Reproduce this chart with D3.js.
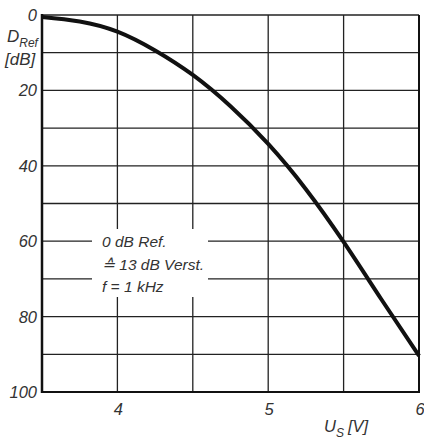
<!DOCTYPE html>
<html>
<head>
<meta charset="utf-8">
<script src="https://cdn.jsdelivr.net/npm/d3@7"></script>
<style>
  body { margin: 0; background: #fff; }
  text { font-family: "Liberation Sans", Arial, sans-serif; font-style: italic; fill: #333; }
</style>
</head>
<body>
<script>
'use strict';
(function() {
    // values
    let volts = [3.5, 3.75, 4.0, 4.25, 4.5, 4.75, 5.0, 5.25, 5.5, 5.75, 6.0];
    let dbRef = [0.5, 1.7, 4.4, 9.4, 15.9, 24.2, 34.2, 46.2, 60.2, 75.4, 90.4];
    let xGrid = [3.5, 4, 4.5, 5, 5.5, 6];
    let xLabels = [4, 5, 6];
    let yGrid = [0, 10, 20, 30, 40, 50, 60, 70, 80, 90, 100];
    let yLabels = [0, 20, 40, 60, 80, 100];
    let noteLines = ['0 dB Ref.', '\u2259 13 dB Verst.', 'f = 1 kHz'];

    let plot = { left: 42, right: 419, top: 15, bottom: 392 };

    let svg = d3.select('body').append('svg')
                .attr('width', 424)
                .attr('height', 440);

    let x = d3.scaleLinear().domain([3.5, 6]).range([plot.left, plot.right]);
    let y = d3.scaleLinear().domain([0, 100]).range([plot.top, plot.bottom]);

    // grid
    svg.append('g')
        .selectAll('line')
        .data(xGrid)
        .enter()
        .append('line')
        .attr('x1', (d) => x(d)).attr('x2', (d) => x(d))
        .attr('y1', plot.top).attr('y2', plot.bottom)
        .attr('stroke', '#222')
        .attr('stroke-width', 1.3);
    svg.append('g')
        .selectAll('line')
        .data(yGrid)
        .enter()
        .append('line')
        .attr('x1', plot.left).attr('x2', plot.right)
        .attr('y1', (d) => y(d)).attr('y2', (d) => y(d))
        .attr('stroke', '#222')
        .attr('stroke-width', 1.3);

    // heavier frame on left, bottom, right
    svg.append('line')
        .attr('x1', plot.left).attr('x2', plot.left)
        .attr('y1', plot.top - 1).attr('y2', plot.bottom + 1)
        .attr('stroke', '#111').attr('stroke-width', 2.5);
    svg.append('line')
        .attr('x1', plot.left).attr('x2', plot.right + 1)
        .attr('y1', plot.bottom).attr('y2', plot.bottom)
        .attr('stroke', '#111').attr('stroke-width', 2.2);
    svg.append('line')
        .attr('x1', plot.right).attr('x2', plot.right)
        .attr('y1', plot.top).attr('y2', plot.bottom)
        .attr('stroke', '#111').attr('stroke-width', 2);

    // tick labels
    svg.append('g')
        .selectAll('text')
        .data(yLabels)
        .enter()
        .append('text')
        .attr('x', plot.left - 5)
        .attr('y', (d) => y(d) + 6)
        .attr('text-anchor', 'end')
        .style('font-size', '16.5px')
        .text((d) => d);
    svg.append('g')
        .selectAll('text')
        .data(xLabels)
        .enter()
        .append('text')
        .attr('x', (d) => x(d) + 1)
        .attr('y', 415)
        .attr('text-anchor', 'middle')
        .style('font-size', '16.5px')
        .text((d) => d);

    // axis titles
    let yt = svg.append('text').attr('x', 7).attr('y', 42).style('font-size', '17px');
    yt.append('tspan').text('D');
    yt.append('tspan').attr('dy', 5).style('font-size', '12px').text('Ref');
    svg.append('text').attr('x', 5).attr('y', 65).style('font-size', '17px').text('[dB]');

    let xt = svg.append('text').attr('x', 324).attr('y', 432).style('font-size', '16.5px');
    xt.append('tspan').text('U');
    xt.append('tspan').attr('dy', 5).style('font-size', '12px').text('S');
    xt.append('tspan').attr('dy', -5).attr('dx', 4).text('[V]');

    // note box
    svg.append('rect')
        .attr('x', 92).attr('y', 229)
        .attr('width', 116).attr('height', 68)
        .attr('fill', '#fff');
    svg.append('g')
        .selectAll('text')
        .data(noteLines)
        .enter()
        .append('text')
        .attr('x', 102)
        .attr('y', (d, i) => 247 + i * 22.5)
        .style('font-size', '15.5px')
        .text((d) => d);

    // curve
    let line = d3.line()
        .x((d, i) => x(volts[i]))
        .y((d) => y(d))
        .curve(d3.curveNatural);
    svg.append('path')
        .datum(dbRef)
        .attr('fill', 'none')
        .attr('stroke', '#111')
        .attr('stroke-width', 4)
        .attr('d', line);
})();
</script>
</body>
</html>
